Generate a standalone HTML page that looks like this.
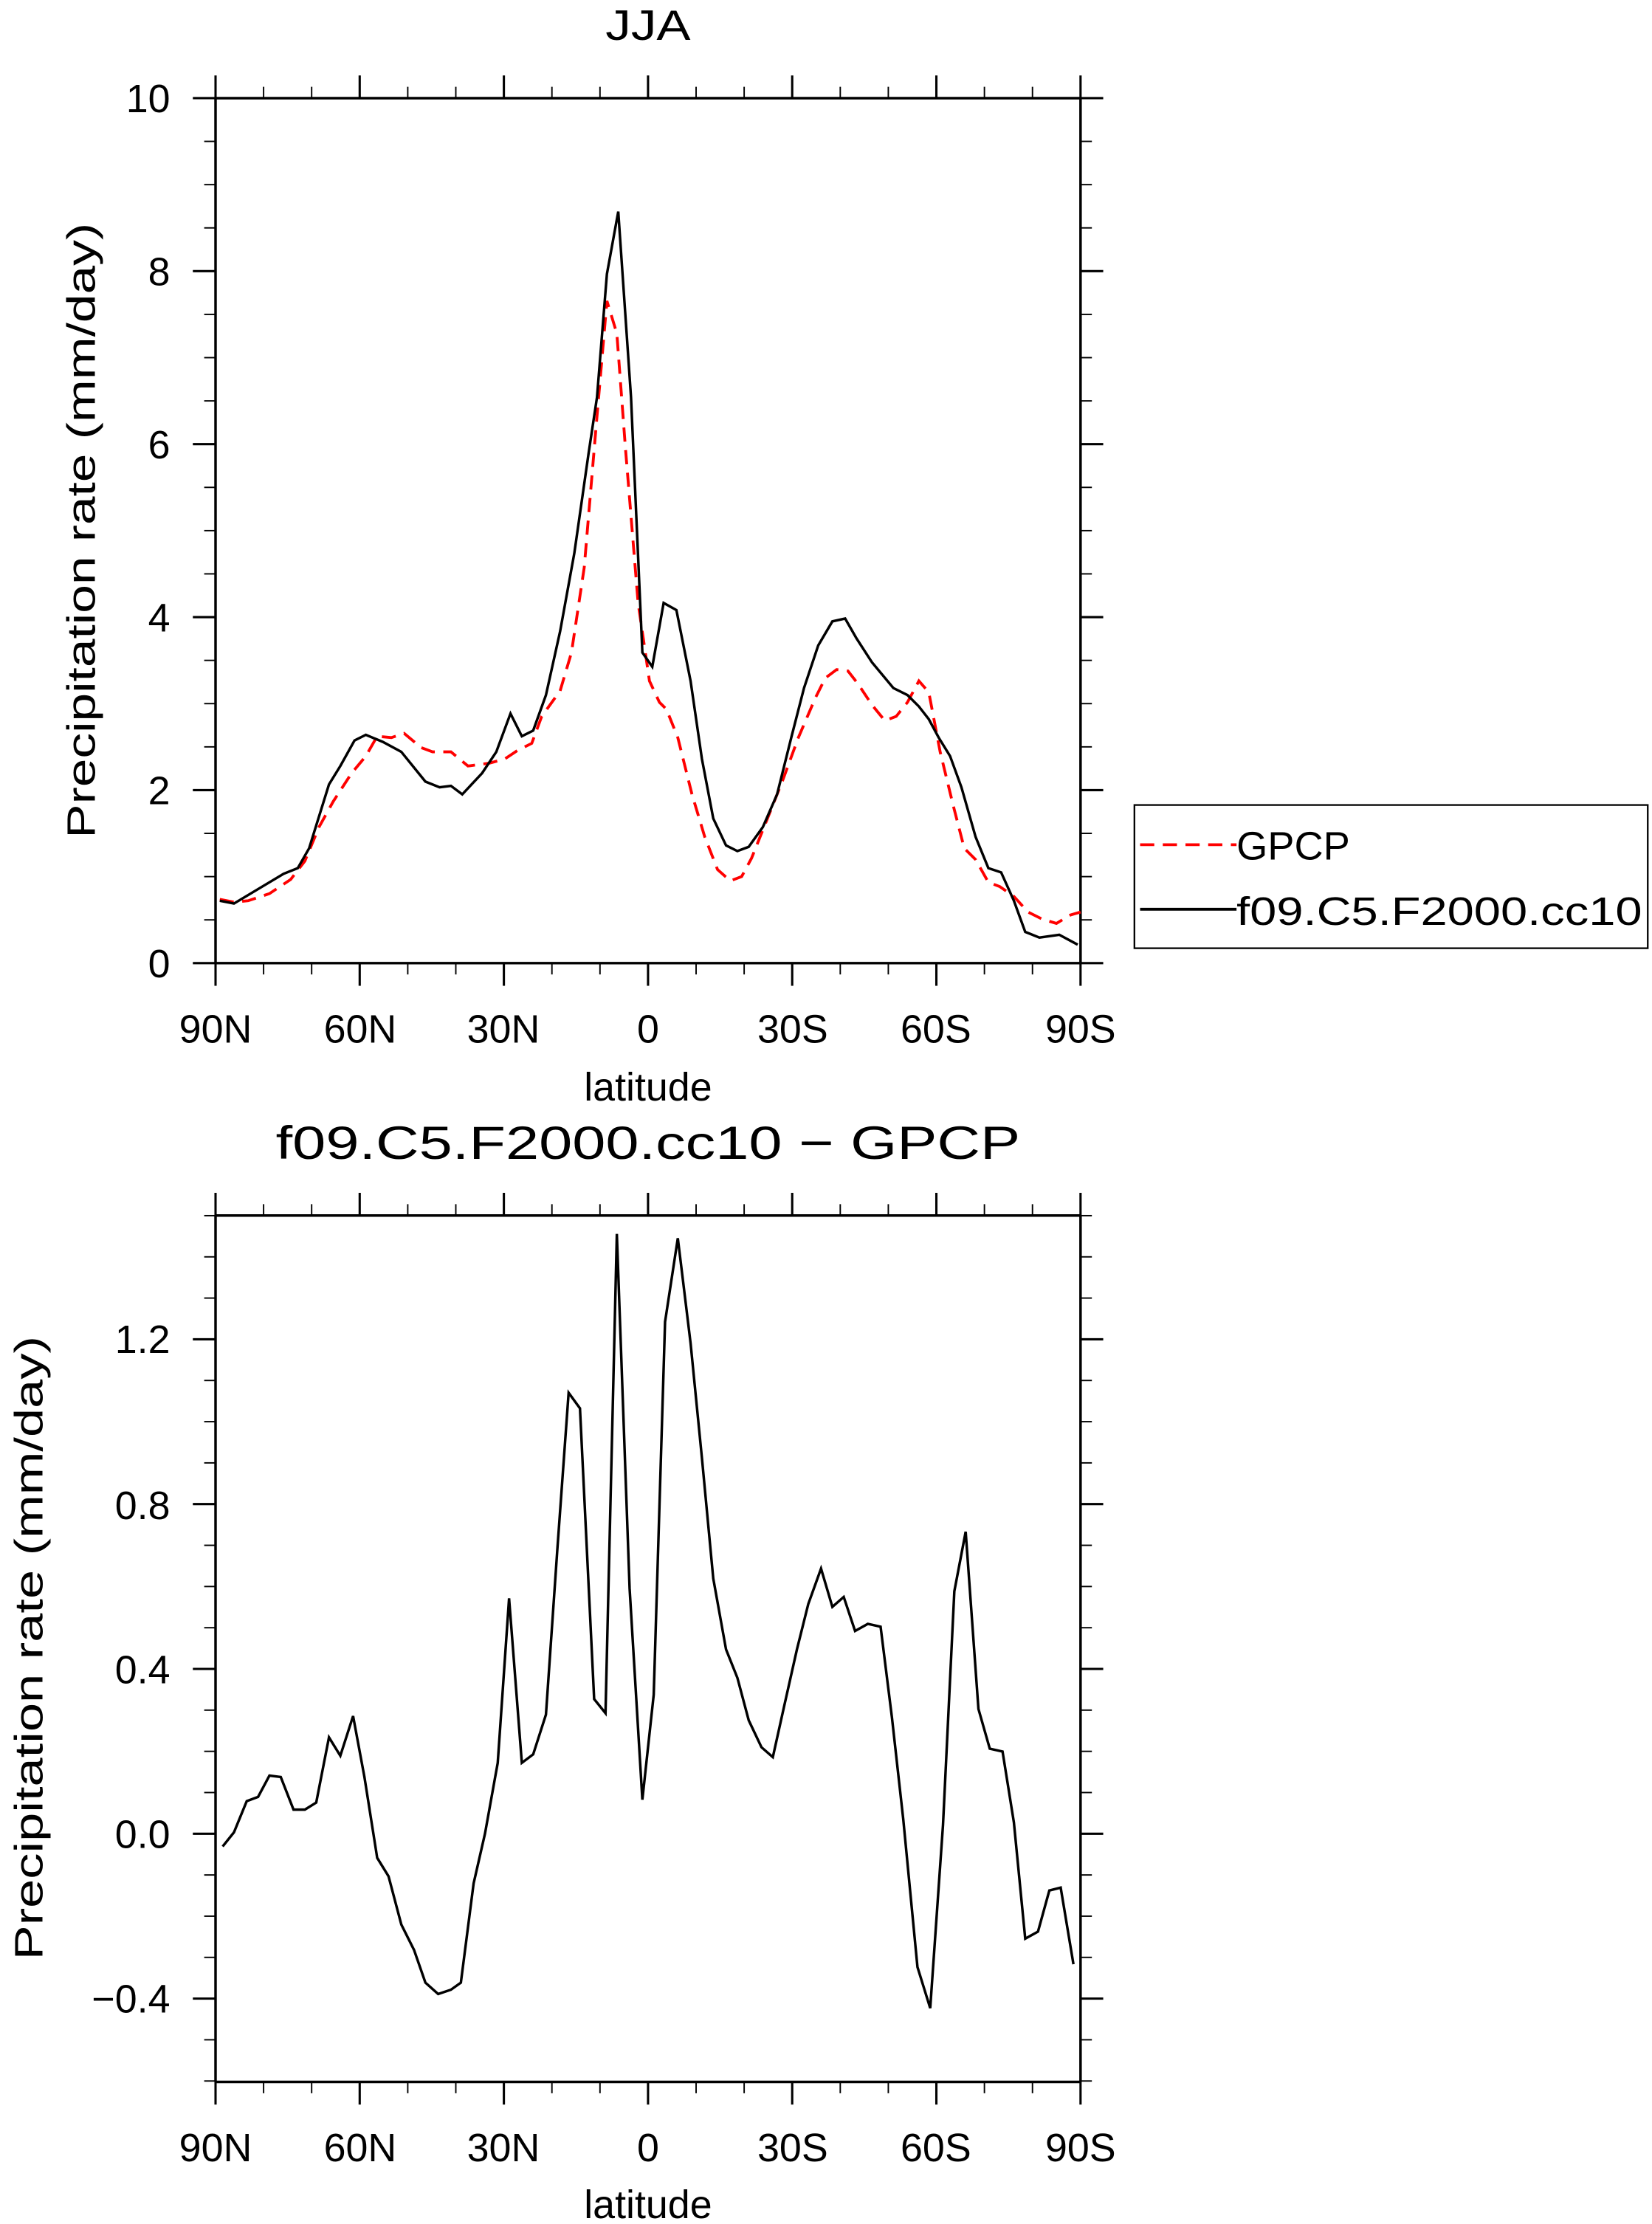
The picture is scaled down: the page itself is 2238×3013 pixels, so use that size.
<!DOCTYPE html>
<html><head><meta charset="utf-8"><style>
html,body{margin:0;padding:0;background:#fff;}
svg{display:block;}
text{font-family:"Liberation Sans",sans-serif;fill:#000;}
</style></head><body>
<svg width="2238" height="3013" viewBox="0 0 1165 1568" xmlns="http://www.w3.org/2000/svg">
<rect width="1165" height="1568" fill="#fff"/>
<g id="ticks" stroke="#000" fill="none">
</g>
<script>
(function(){
var NS="http://www.w3.org/2000/svg",g=document.getElementById("ticks");
function L(x1,y1,x2,y2,w){var l=document.createElementNS(NS,"line");l.setAttribute("x1",x1);l.setAttribute("y1",y1);l.setAttribute("x2",x2);l.setAttribute("y2",y2);l.setAttribute("stroke-width",w);g.appendChild(l);}
function axes(top,bot,ymaj,ymin){
 var x0=152,x1=762;
 for(var i=0;i<=18;i++){var x=x0+(x1-x0)*i/18,maj=(i%3==0),len=maj?16:8,w=maj?1.6:1;
  L(x,top,x,top-len,w);L(x,bot,x,bot+len,w);}
 ymaj.forEach(function(y){L(x0,y,x0-16,y,1.6);L(x1,y,x1+16,y,1.6);});
 ymin.forEach(function(y){L(x0,y,x0-8,y,1);L(x1,y,x1+8,y,1);});
 L(x0,top,x1,top,1.8);L(x0,bot,x1,bot,1.8);L(x0,top,x0,bot,1.8);L(x1,top,x1,bot,1.8);
}
var a=[],b=[];for(var v=0;v<=20;v++){var y=679-v*30.5;(v%4==0?a:b).push(y);}
axes(69,679,a,b);
a=[];b=[];for(var k=-6;k<=15;k++){var y=1293-k*29.06;if(y<857||y>1468)continue;(k%4==0?a:b).push(y);}
axes(857,1468,a,b);
})();
</script>
<g font-size="28" text-anchor="middle">
<text x="457" y="28" font-size="30" textLength="60" lengthAdjust="spacingAndGlyphs">JJA</text>
<text x="457" y="817" font-size="33" textLength="525" lengthAdjust="spacingAndGlyphs">f09.C5.F2000.cc10 − GPCP</text>
<g id="xl1">
<text x="152" y="735">90N</text><text x="254" y="735">60N</text><text x="355" y="735">30N</text><text x="457" y="735">0</text><text x="559" y="735">30S</text><text x="660" y="735">60S</text><text x="762" y="735">90S</text>
<text x="457" y="776">latitude</text>
</g>
<text x="152" y="1524">90N</text><text x="254" y="1524">60N</text><text x="355" y="1524">30N</text><text x="457" y="1524">0</text><text x="559" y="1524">30S</text><text x="660" y="1524">60S</text><text x="762" y="1524">90S</text>
<text x="457" y="1564">latitude</text>
</g>
<g font-size="28" text-anchor="end">
<text x="120" y="79">10</text><text x="120" y="201">8</text><text x="120" y="323">6</text><text x="120" y="445">4</text><text x="120" y="567">2</text><text x="120" y="689">0</text>
<text x="120" y="954">1.2</text><text x="120" y="1071">0.8</text><text x="120" y="1187">0.4</text><text x="120" y="1303">0.0</text><text x="120" y="1419">−0.4</text>
</g>
<text transform="translate(67,374) rotate(-90)" font-size="28" text-anchor="middle" textLength="434" lengthAdjust="spacingAndGlyphs">Precipitation rate (mm/day)</text>
<text transform="translate(30,1162) rotate(-90)" font-size="28" text-anchor="middle" textLength="440" lengthAdjust="spacingAndGlyphs">Precipitation rate (mm/day)</text>
<polyline fill="none" stroke="#f00" stroke-width="2" stroke-dasharray="10,6" points="155,634 165,636 175,635 190,630 205,620 215,607 225,583 235,565 248,545 258,533 266,519 276,520 285,517 297,527 305,530 318,530 330,540 345,538 356,535 365,529 375,524 382,505 395,487 403,460 412,400 420,305 428,212 435,235 441,315 450,425 458,480 465,495 470,500 478,520 488,560 497,590 506,613 515,621 523,618 530,605 540,580 552,550 563,520 575,492 582,478 590,472 598,473 605,482 615,497 624,508 632,505 640,495 648,480 655,488 663,530 672,567 680,598 688,606 697,622 705,625 715,632 725,643 735,648 745,651 755,645 762,643"/>
<polyline fill="none" stroke="#000" stroke-width="1.8" points="155,635 165,637 180,628 200,616 210,612 218,598 232,553 240,540 250,522 258,518 270,523 283,530 300,551 310,555 318,554 326,560 340,545 350,530 360,503 368,519 376,515 385,490 395,445 405,390 415,320 421,280 428,193 436,149 445,280 453,460 460,470 468,425 477,430 487,480 495,535 503,577 512,596 520,600 528,597 538,583 548,560 558,520 567,485 577,455 587,438 596,436 604,450 615,467 630,485 640,490 648,498 655,507 662,520 670,533 678,555 688,590 697,612 706,615 715,635 723,657 733,661 747,659 760,666"/>
<polyline fill="none" stroke="#000" stroke-width="1.8" points="157,1302 165,1292 174,1270 182,1267 190,1252 198,1253 207,1276 215,1276 223,1271 232,1225 240,1238 249,1210 257,1253 266,1310 274,1323 283,1357 292,1375 300,1398 309,1406 318,1403 325,1398 334,1328 342,1293 351,1243 359,1127 368,1243 376,1237 385,1209 393,1093 401,982 409,993 419,1198 427,1208 435,870 444,1120 453,1269 461,1195 469,932 478,873 487,947 495,1028 503,1113 512,1163 520,1183 528,1213 537,1232 545,1239 553,1203 562,1163 570,1131 579,1106 587,1133 595,1126 603,1150 612,1145 621,1147 629,1211 637,1283 647,1387 656,1416 665,1287 673,1122 681,1080 690,1205 698,1233 707,1235 715,1285 723,1367 732,1362 740,1333 748,1331 757,1385"/>
<rect x="800" y="567.5" width="362" height="101" fill="none" stroke="#000" stroke-width="1.2"/>
<line x1="804" y1="595.5" x2="872" y2="595.5" stroke="#f00" stroke-width="2" stroke-dasharray="10,6"/>
<line x1="804" y1="641" x2="872" y2="641" stroke="#000" stroke-width="2"/>
<text x="872" y="606" font-size="28" textLength="80" lengthAdjust="spacingAndGlyphs">GPCP</text>
<text x="872" y="652" font-size="28" textLength="286" lengthAdjust="spacingAndGlyphs">f09.C5.F2000.cc10</text>
</svg>
</body></html>
